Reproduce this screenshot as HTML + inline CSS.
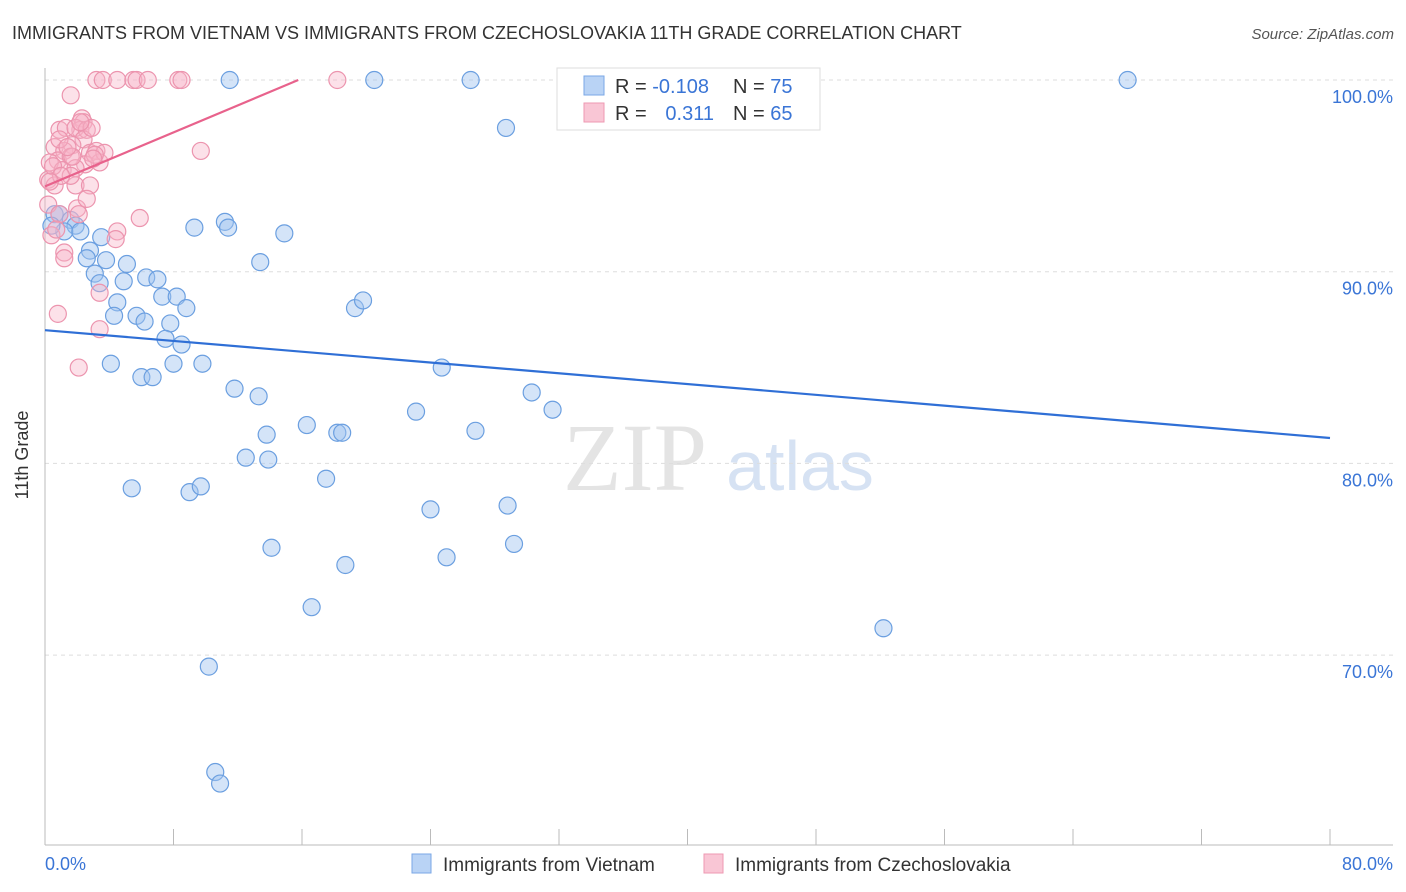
<!DOCTYPE html>
<html><head><meta charset="utf-8"><style>
body{margin:0;background:#fff;font-family:"Liberation Sans",sans-serif;}
svg{display:block}
</style></head><body>
<svg id="chart" width="1406" height="892" xmlns="http://www.w3.org/2000/svg">
<text x="12" y="39" font-size="18" fill="#333">IMMIGRANTS FROM VIETNAM VS IMMIGRANTS FROM CZECHOSLOVAKIA 11TH GRADE CORRELATION CHART</text>
<text x="1394" y="39" font-size="15" fill="#555" font-style="italic" text-anchor="end">Source: ZipAtlas.com</text>
<text x="635" y="490" font-size="96" fill="#e4e4e4" font-family="Liberation Serif, serif" text-anchor="middle">ZIP</text>
<text x="800" y="490" font-size="70" fill="#d6e2f3" text-anchor="middle">atlas</text>
<g id="grid"></g><g id="axes"></g><g id="pts"></g><g id="lines"></g>
<text x="28" y="455" font-size="18" fill="#333" transform="rotate(-90 28 455)" text-anchor="middle">11th Grade</text>
<g>
<rect x="557" y="68" width="263" height="62" fill="#fff" stroke="#ddd"/>
<rect x="584" y="76" width="20" height="19" fill="#b9d3f5" stroke="#7aa7e6"/>
<rect x="584" y="103" width="20" height="19" fill="#f9c6d5" stroke="#ee98b2"/>
<text x="615" y="93" font-size="20" fill="#333">R = <tspan fill="#3a75d6">-0.108</tspan></text>
<text x="733" y="93" font-size="20" fill="#333">N = <tspan fill="#3a75d6">75</tspan></text>
<text x="615" y="120" font-size="20" fill="#333">R = </text>
<text x="714" y="120" font-size="20" fill="#3a75d6" text-anchor="end">0.311</text>
<text x="733" y="120" font-size="20" fill="#333">N = <tspan fill="#3a75d6">65</tspan></text>
</g>
<g>
<rect x="412" y="854" width="19" height="19" fill="#b9d3f5" stroke="#7aa7e6"/>
<text x="443" y="871" font-size="19" fill="#333">Immigrants from Vietnam</text>
<rect x="704" y="854" width="19" height="19" fill="#f9c6d5" stroke="#ee98b2"/>
<text x="735" y="871" font-size="19" fill="#333">Immigrants from Czechoslovakia</text>
</g>
<text x="45" y="870" font-size="18" fill="#3a75d6">0.0%</text>
<text x="1393" y="870" font-size="18" fill="#3a75d6" text-anchor="end">80.0%</text>
</svg>
<script>
const yTicks=[100,90,80,70];
const yTickLabels=["100.0%","90.0%","80.0%","70.0%"];
const xTicks=[0,8,16,24,32,40,48,56,64,72,80];
const vietX=[11.5,20.5,26.5,43.1,67.4,28.7,0.6,0.9,1.6,1.9,1.2,2.2,0.4,9.3,11.2,11.4,14.9,3.5,2.8,2.6,3.8,5.1,13.4,3.1,6.3,7.0,4.9,3.4,7.3,8.2,4.5,8.8,19.3,19.8,4.3,5.7,6.2,7.8,7.5,8.5,4.1,8.0,9.8,24.7,6.0,6.7,11.8,13.3,30.3,31.6,23.1,16.3,13.8,18.2,18.5,26.8,12.5,13.9,17.5,5.4,9.0,9.7,24.0,28.8,14.1,29.2,25.0,18.7,16.6,52.2,10.2,10.6,10.9];
const vietY=[100,100,100,100,100,97.5,93.0,93.0,92.7,92.4,92.1,92.1,92.4,92.3,92.6,92.3,92.0,91.8,91.1,90.7,90.6,90.4,90.5,89.9,89.7,89.6,89.5,89.4,88.7,88.7,88.4,88.1,88.1,88.5,87.7,87.7,87.4,87.3,86.5,86.2,85.2,85.2,85.2,85.0,84.5,84.5,83.9,83.5,83.7,82.8,82.7,82.0,81.5,81.6,81.6,81.7,80.3,80.2,79.2,78.7,78.5,78.8,77.6,77.8,75.6,75.8,75.1,74.7,72.5,71.4,69.4,63.9,63.3];
const czX=[3.2,3.6,4.5,5.5,5.7,6.4,8.3,8.5,18.2,1.6,2.3,2.4,2.2,0.9,1.3,1.9,2.6,2.4,1.7,0.6,1.2,2.8,3.2,3.4,0.8,1.6,0.3,2.5,1.1,1.9,0.2,0.6,1.9,2.8,9.7,0.2,2.0,2.1,0.9,5.9,4.5,4.4,1.2,1.2,3.4,0.8,3.4,2.1,0.4,0.7,3.7,1.6,2.6,1.7,3.1,0.9,2.9,0.5,1.4,2.2,1.0,3.0,0.3];
const czY=[100,100,100,100,100,100,100,100,100,99.2,98.0,97.8,97.4,97.4,97.5,97.5,97.4,96.9,96.6,96.5,96.3,96.2,96.3,95.7,95.8,96.0,95.7,95.6,95.3,95.4,94.8,94.5,94.5,94.5,96.3,93.5,93.3,93.0,93.0,92.8,92.1,91.7,91.0,90.7,88.9,87.8,87.0,85.0,91.9,92.2,96.2,95.0,93.8,96.0,96.1,96.9,97.5,95.5,96.5,97.8,95.0,95.9,94.7];
const trendV=[86.95,-0.0703];
const trendC=[94.45,0.352];
const NS="http://www.w3.org/2000/svg";
const X=v=>45+v/80*1285, Y=v=>80+(100-v)*19.17;
function mk(t,a,p){const e=document.createElementNS(NS,t);for(const k in a)e.setAttribute(k,a[k]);p.appendChild(e);return e;}
const grid=document.getElementById('grid'),axes=document.getElementById('axes'),pts=document.getElementById('pts'),lines=document.getElementById('lines');
yTicks.forEach((t,i)=>{
 const l=mk('line',{x1:45,x2:1393,y1:Y(t),y2:Y(t),stroke:'#ddd','stroke-dasharray':'4,4'},grid);
 
 
 const tx=mk('text',{x:1393,y:Y(t)+23,'font-size':18,fill:'#3a75d6','text-anchor':'end'},axes);
 tx.textContent=yTickLabels[i];
 
 
});
const ax=mk('line',{x1:45,x2:45,y1:68,y2:845,stroke:'#bbb'},axes);


const bx=mk('line',{x1:45,x2:1393,y1:845,y2:845,stroke:'#bbb'},axes);


xTicks.forEach(t=>{
 const l=mk('line',{x1:X(t),x2:X(t),y1:829,y2:845,stroke:'#bbb'},axes);
 
 
});
vietX.forEach((x,i)=>{
 const c=mk('circle',{cx:X(x),cy:Y(vietY[i]),r:8.5,fill:'rgba(160,196,240,0.45)',stroke:'#6b9fe0','stroke-width':1.2},pts);
 
 
});
czX.forEach((x,i)=>{
 const c=mk('circle',{cx:X(x),cy:Y(czY[i]),r:8.5,fill:'rgba(247,180,200,0.4)',stroke:'#ec94ae','stroke-width':1.2},pts);
 
 
});
const lv=mk('line',{x1:X(0),y1:Y(trendV[0]),x2:X(80),y2:Y(trendV[0]+trendV[1]*80),stroke:'#2f6fd6','stroke-width':2.2},lines);


const xe=(100-trendC[0])/trendC[1];
const lc=mk('line',{x1:X(0),y1:Y(trendC[0]),x2:X(xe),y2:Y(100),stroke:'#e8628c','stroke-width':2.2},lines);


</script>
</body></html>
